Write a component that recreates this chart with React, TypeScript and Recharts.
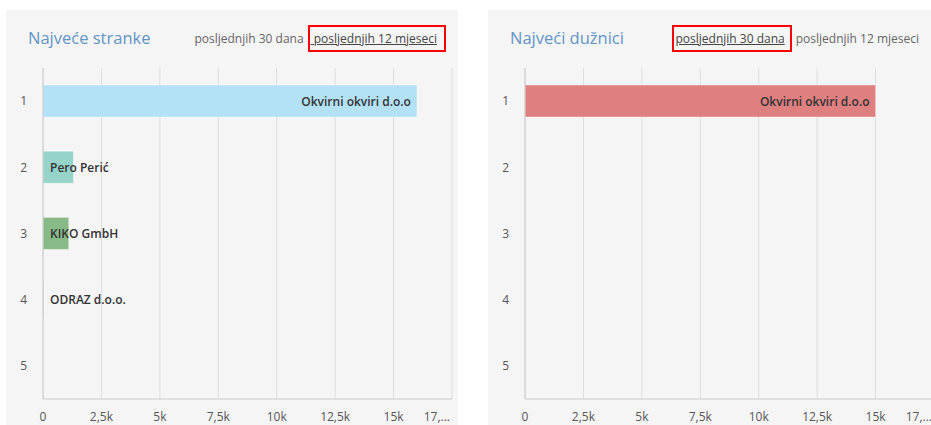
import { BarChart, Bar, XAxis, YAxis, CartesianGrid, Cell, LabelList } from 'recharts';

// rank categories on the y axis
const ranks = ['1', '2', '3', '4', '5'];

// Najveće stranke (last 12 months)
const clientNames = ['Okvirni okviri d.o.o', 'Pero Perić', 'KIKO GmbH', 'ODRAZ d.o.o.', ''];
const clientValues = [16000, 1300, 1100, 0, 0];

// Najveći dužnici (last 30 days)
const debtorNames = ['Okvirni okviri d.o.o', '', '', '', ''];
const debtorValues = [15000, 0, 0, 0, 0];

const xTicks = [0, 2500, 5000, 7500, 10000, 12500, 15000, 17500];
const xTickLabels = ['0', '2,5k', '5k', '7,5k', '10k', '12,5k', '15k', '17,...'];

const periodLinks = ['posljednjih 30 dana', 'posljednjih 12 mjeseci'];

const CLIENT_COLORS = ['#b3e2f7', '#96d4ca', '#87ba87', '#c9c9c9', '#c9c9c9'];
const DEBTOR_COLORS = ['#e07f7f', '#e07f7f', '#e07f7f', '#e07f7f', '#e07f7f'];

const FONT = '"Open Sans", sans-serif';

const XTick = ({ x, y, payload, index }: any) => {
  const last = index === xTicks.length - 1;
  return (
    <text
      x={last ? x - 2 : x}
      y={y + 5}
      textAnchor={last ? 'end' : 'middle'}
      fill="#555"
      fontSize={12}
      fontFamily={FONT}
      dy="0.71em"
    >
      {xTickLabels[xTicks.indexOf(payload.value)]}
    </text>
  );
};

const makeLabel = (names: string[]) => (props: any) => {
  const { x, y, width, height, index } = props;
  const name = names[index];
  if (!name) return null;
  const inside = width > 150;
  return (
    <text
      x={inside ? x + width - 6 : x + 7}
      y={y + height / 2}
      textAnchor={inside ? 'end' : 'start'}
      dominantBaseline="central"
      fill="#333"
      fontSize={12}
      fontWeight={600}
      fontFamily={FONT}
    >
      {name}
    </text>
  );
};

interface PanelProps {
  left: number;
  title: string;
  names: string[];
  values: number[];
  colors: string[];
  active: 0 | 1;
}

const Panel = ({ left, title, names, values, colors, active }: PanelProps) => {
  const data = ranks.map((rank, i) => ({ rank, value: values[i] }));

  return (
    <div
      style={{
        position: 'absolute',
        left,
        top: 10,
        width: 452,
        height: 420,
        background: '#f5f5f5',
        fontFamily: FONT,
      }}
    >
      <div
        style={{
          position: 'absolute',
          left: 22,
          top: 15,
          fontSize: 16.5,
          color: '#6394c6',
          lineHeight: '26px',
        }}
      >
        {title}
      </div>
      <div
        style={{
          position: 'absolute',
          right: 21,
          top: 21,
          fontSize: 12,
          color: '#666',
          lineHeight: '15px',
          whiteSpace: 'nowrap',
          display: 'flex',
          alignItems: 'center',
        }}
      >
        {periodLinks.map((l, i) => (
          <span
            key={l}
            style={{
              position: 'relative',
              marginLeft: i === 1 ? (i === active ? 7 : 11) : 0,
              color: i === active ? '#444' : '#666',
              textDecoration: i === active ? 'underline' : 'none',
            }}
          >
            {i === active && i === 1 ? '\u00a0' + l : l}
            {i === active && (
              <span
                style={{
                  position: 'absolute',
                  left: i === 1 ? -3 : -4,
                  right: i === 1 ? -9 : -7,
                  top: -6,
                  bottom: -6,
                  border: '2px solid #ff0000',
                }}
              />
            )}
          </span>
        ))}
      </div>
      <div style={{ position: 'absolute', left: 0, top: 0 }}>
        <BarChart
          width={452}
          height={415}
          layout="vertical"
          data={data}
          margin={{ top: 58, right: 6, left: 0, bottom: 0 }}
          barSize={32}
        >
          <CartesianGrid horizontal={false} stroke="#dddddd" />
          <XAxis
            type="number"
            domain={[0, 17500]}
            ticks={xTicks}
            interval={0}
            height={26}
            tickLine={false}
            axisLine={{ stroke: '#cccccc' }}
            tick={<XTick />}
          />
          <YAxis
            type="category"
            dataKey="rank"
            width={37}
            tickLine={false}
            tickMargin={10}
            axisLine={{ stroke: '#cccccc' }}
            tick={{ fill: '#555', fontSize: 12, fontFamily: FONT }}
          />
          <Bar
            dataKey="value"
            isAnimationActive={false}
            stroke="rgba(255,255,255,0.35)"
            strokeWidth={1}
            minPointSize={(_v: number, i: number) => (names[i] ? 1 : 0)}
          >
            {data.map((d, i) => (
              <Cell key={d.rank} fill={colors[i]} />
            ))}
            <LabelList dataKey="value" content={makeLabel(names)} />
          </Bar>
        </BarChart>
      </div>
    </div>
  );
}

export default function App() {
  return (
    <div
      style={{
        position: 'fixed',
        left: 0,
        top: 0,
        width: 931,
        height: 425,
        overflow: 'hidden',
        background: '#ffffff',
      }}
    >
      <Panel
        left={6}
        title="Najveće stranke"
        names={clientNames}
        values={clientValues}
        colors={CLIENT_COLORS}
        active={1}
      />
      <Panel
        left={488}
        title="Najveći dužnici"
        names={debtorNames}
        values={debtorValues}
        colors={DEBTOR_COLORS}
        active={0}
      />
    </div>
  );
}
